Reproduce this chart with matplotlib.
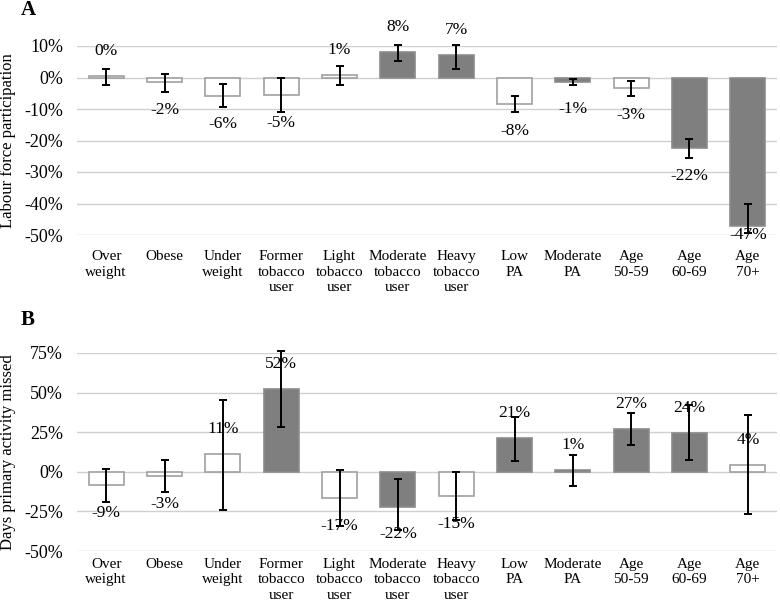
import numpy as np
import matplotlib.pyplot as plt
from matplotlib.ticker import FuncFormatter

plt.rcParams['font.family'] = ['Liberation Serif', 'DejaVu Serif']

categories = ['Over\nweight', 'Obese', 'Under\nweight', 'Former\ntobacco\nuser',
              'Light\ntobacco\nuser', 'Moderate\ntobacco\nuser', 'Heavy\ntobacco\nuser',
              'Low\nPA', 'Moderate\nPA', 'Age\n50-59', 'Age\n60-69', 'Age\n70+']

# panel A: labour force participation (%)
lfp_values = [0.5, -1.5, -5.8, -5.5, 0.7, 8.2, 7.0, -8.3, -1.3, -3.2, -22.5, -47.0]
lfp_low = [-2.5, -4.5, -9.5, -10.8, -2.5, 5.3, 2.8, -10.8, -2.5, -5.8, -25.5, -49.5]
lfp_high = [2.8, 1.0, -2.0, -0.2, 3.5, 10.3, 10.3, -5.8, -0.5, -1.0, -19.5, -40.2]
lfp_labels = ['0%', '-2%', '-6%', '-5%', '1%', '8%', '7%', '-8%', '-1%', '-3%', '-22%', '-47%']
lfp_sig = [0, 0, 0, 0, 0, 1, 1, 0, 1, 0, 1, 1]

# panel B: days primary activity missed (%)
days_values = [-8.5, -2.5, 11.2, 52.3, -16.8, -22.0, -15.3, 21.2, 1.0, 27.2, 24.8, 4.3]
days_low = [-19.3, -12.5, -24.0, 28.0, -34.5, -36.5, -30.3, 7.1, -9.0, 17.0, 7.3, -26.9]
days_high = [2.0, 7.5, 45.5, 76.0, 1.0, -4.6, 0.0, 34.9, 10.5, 37.3, 42.3, 36.0]
days_labels = ['-9%', '-3%', '11%', '52%', '-17%', '-22%', '-15%', '21%', '1%', '27%', '24%', '4%']
days_sig = [0, 0, 0, 1, 0, 1, 0, 1, 1, 1, 1, 0]

ylabels = ['Labour force participation', 'Days primary activity missed']

fig = plt.figure(figsize=(7.8, 6.03), dpi=100)
axA = fig.add_axes([77 / 780, 1 - 235 / 603, 700 / 780, 189 / 603])
axB = fig.add_axes([77 / 780, 1 - 551 / 603, 700 / 780, 198 / 603])


def draw_panel(ax, vals, lo, hi, labels, sig, ylim, ticks, ylab, letter, letter_y, xpad):
    x = np.arange(len(vals))
    vals = np.array(vals)
    fill = ['#7f7f7f' if s else 'white' for s in sig]
    edge = ['#8c8c8c' if s else '#a0a0a0' for s in sig]
    ax.bar(x, vals, width=0.6, color=fill, edgecolor=edge, linewidth=1.2, zorder=2)
    err = [vals - np.array(lo), np.array(hi) - vals]
    ax.errorbar(x, vals, yerr=err, fmt='none', ecolor='black', elinewidth=1.4,
                capsize=2.8, capthick=1.4, zorder=3, clip_on=False)
    for xi, v, t in zip(x, vals, labels):
        off = 18 if v >= 0 else -20
        y = v
        if v < 0 and v - 9 < ylim[0]:
            y, off = ylim[0], 0
        ax.annotate(t, (xi, y), xytext=(0, off), textcoords='offset points',
                    ha='center', va='center', fontsize=12.5, zorder=4,
                    annotation_clip=False)
    ax.set_xlim(-0.5, len(vals) - 0.5)
    ax.set_ylim(*ylim)
    ax.set_yticks(ticks)
    ax.yaxis.set_major_formatter(FuncFormatter(lambda v, p: '%d%%' % v))
    ax.grid(axis='y', color='#d0d0d0', linewidth=1.0, zorder=0)
    ax.set_axisbelow(True)
    for s in ax.spines.values():
        s.set_visible(False)
    ax.tick_params(axis='both', length=0)
    ax.tick_params(axis='y', labelsize=13, pad=10)
    ax.set_xticks(x)
    ax.set_xticklabels(categories, fontsize=11, linespacing=1.25, va='top')
    ax.tick_params(axis='x', pad=xpad)
    bbox = ax.get_position()
    fig.text(8 / 780, (bbox.y0 + bbox.y1) / 2, ylab, rotation=90, ha='center',
             va='center', fontsize=12)
    fig.text(21 / 780, letter_y, letter, fontsize=15, fontweight='bold',
             ha='left', va='center')


draw_panel(axA, lfp_values, lfp_low, lfp_high, lfp_labels, lfp_sig,
           (-50, 10), range(-50, 11, 10), ylabels[0], 'A', 1 - 10 / 603, 11)
draw_panel(axB, days_values, days_low, days_high, days_labels, days_sig,
           (-50, 75), range(-50, 76, 25), ylabels[1], 'B', 1 - 320 / 603, 5)

fig.savefig('out.png', dpi=100)
